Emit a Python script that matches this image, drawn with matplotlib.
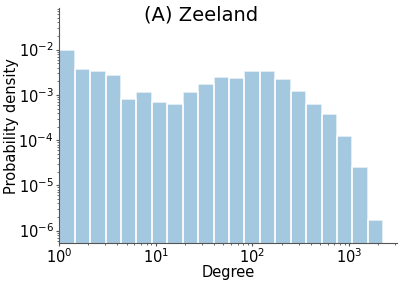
import numpy as np
import matplotlib
matplotlib.use("Agg")
import matplotlib.pyplot as plt

# Data: log-binned degree distribution (probability density)
n_bins = 21
max_degree = 2260
density = [1.0e-2, 3.8e-3, 3.45e-3, 2.7e-3, 8.3e-4, 1.15e-3, 7.0e-4, 6.2e-4,
           1.15e-3, 1.7e-3, 2.43e-3, 2.34e-3, 3.4e-3, 3.45e-3, 2.2e-3, 1.2e-3,
           6.4e-4, 3.7e-4, 1.23e-4, 2.6e-5, 1.7e-6]

edges = np.logspace(0, np.log10(max_degree), n_bins + 1)

fig = plt.figure(figsize=(4.02, 2.86), dpi=100)
ax_w = 396.7 - 59.3
ax_h = 243.3 - 8
ax = fig.add_axes([59.3 / 402, 1 - 243.3 / 286, ax_w / 402, ax_h / 286])

ax.bar(edges[:-1], density, width=np.diff(edges), align='edge',
       color='tab:blue', alpha=0.4, edgecolor='none', linewidth=0)
ax.bar(edges[:-1], density, width=np.diff(edges), align='edge',
       facecolor='none', edgecolor='white', linewidth=1.2, alpha=0.8)

ax.set_xscale('log')
ax.set_yscale('log')
ax.set_xlim(1, 10 ** 3.493)
ax.set_ylim(10 ** -6.28, 10 ** -1.08)

for s in ['top', 'right']:
    ax.spines[s].set_visible(False)
for s in ['left', 'bottom']:
    ax.spines[s].set_color('#555555')

ax.tick_params(which='major', labelsize=10.5, length=2, color='#555555')
ax.tick_params(axis='x', which='major', pad=1)
ax.tick_params(axis='y', which='major', pad=2)
ax.tick_params(which='minor', length=1.5, color='#555555')
ax.set_xlabel('Degree', fontsize=10.5)
ax.set_ylabel('Probability density', fontsize=10.5)
ax.xaxis.set_label_coords(0.5, -(265 - 243.3) / ax_h)
ax.yaxis.set_label_coords(-(59.3 - 19) / ax_w, 0.5)
fig.suptitle('(A) Zeeland', fontsize=14, x=0.5, y=0.98)

fig.savefig('out.png', dpi=100)
